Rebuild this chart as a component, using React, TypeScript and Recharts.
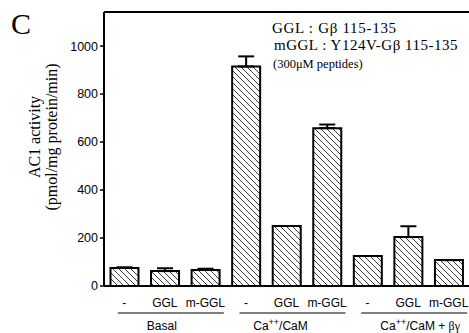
import React from 'react';
import { BarChart, Bar, XAxis, YAxis, ErrorBar, ReferenceLine } from 'recharts';

const conditions = ['-', 'GGL', 'm-GGL', '-', 'GGL', 'm-GGL', '-', 'GGL', 'm-GGL'];
const groups = ['Basal', 'Ca++/CaM', 'Ca++/CaM + βγ'];
const activity = [75, 62, 67, 915, 250, 658, 125, 204, 108];
const sem = [3, 12, 5, 42, 0, 15, 0, 45, 0];
const yTicks = [0, 200, 400, 600, 800, 1000];
const yMax = 1142;

const SANS = '"Liberation Sans", Arial, sans-serif';
const SERIF = '"Liberation Serif", "Times New Roman", serif';

const data = conditions.map((c, i) => ({
  key: i,
  label: c,
  value: activity[i],
  err: [0, sem[i]],
}));

const groupLabelShift = [-3, -6, 12];

function GroupLabel({ name, x, y }: { name: string; x: number; y: number }) {
  if (name.startsWith('Ca++')) {
    const rest = name.slice(4);
    const plus = rest.indexOf('βγ');
    return (
      <text x={x} y={y} textAnchor="middle" fontFamily={SANS} fontSize={12} fill="#000">
        Ca
        <tspan dy={-5} fontSize={9}>++</tspan>
        <tspan dy={5}>{plus >= 0 ? rest.slice(0, plus) : rest}</tspan>
        {plus >= 0 && <tspan fontFamily={SERIF}>βγ</tspan>}
      </text>
    );
  }
  return (
    <text x={x} y={y} textAnchor="middle" fontFamily={SANS} fontSize={12} fill="#000">
      {name}
    </text>
  );
}

function CategoryTick(props: any) {
  const { x, payload } = props;
  const i = Number(payload.value);
  const base = 286;
  return (
    <g>
      <text x={x} y={base + 21} textAnchor="middle" fontFamily={SANS} fontSize={12} fill="#000">
        {conditions[i]}
      </text>
      {i % 3 === 1 && (
        <g>
          <line x1={x - 47} x2={x + 59} y1={base + 27} y2={base + 27} stroke="#000" strokeWidth={1.2} />
          <GroupLabel name={groups[(i - 1) / 3]} x={x + groupLabelShift[(i - 1) / 3]} y={base + 44} />
        </g>
      )}
    </g>
  );
}

export default function App() {
  return (
    <div style={{ position: 'absolute', left: 0, top: 0, width: 469, height: 333, background: '#fff' }}>
      <svg width={0} height={0} style={{ position: 'absolute' }}>
        <defs>
          <pattern id="hatch" patternUnits="userSpaceOnUse" width={6} height={6}>
            <path d="M0,0 L6,6 M-1,5 L1,7 M5,-1 L7,1" stroke="#222" strokeWidth={0.9} />
          </pattern>
        </defs>
      </svg>
      <BarChart
        width={469}
        height={333}
        data={data}
        margin={{ top: 12, right: 0, bottom: 0, left: 54 }}
        barCategoryGap="16%"
      >
        <XAxis
          dataKey="key"
          type="category"
          height={47}
          axisLine={{ stroke: '#000', strokeWidth: 2 }}
          tickLine={false}
          interval={0}
          tick={<CategoryTick />}
        />
        <YAxis
          width={50}
          domain={[0, yMax]}
          ticks={yTicks}
          allowDataOverflow
          axisLine={{ stroke: '#000', strokeWidth: 2 }}
          tickLine={{ stroke: '#000', strokeWidth: 1.5 }}
          tickSize={4}
          tick={{ fill: '#000', fontFamily: SANS, fontSize: 12.5 }}
        />
        <ReferenceLine y={yMax} stroke="#000" strokeWidth={2} ifOverflow="extendDomain" />
        <Bar dataKey="value" fill="url(#hatch)" stroke="#000" strokeWidth={2} isAnimationActive={false}>
          <ErrorBar dataKey="err" width={8} stroke="#000" strokeWidth={2} direction="y" />
        </Bar>
      </BarChart>
      <svg width={469} height={333} style={{ position: 'absolute', left: 0, top: 0, pointerEvents: 'none' }}>
        <text x={11} y={34} fontFamily={SERIF} fontSize={30} fill="#000">C</text>
        <text
          transform="translate(40,137) rotate(-90)"
          textAnchor="middle"
          fontFamily={SERIF}
          fontSize={16}
          fill="#000"
        >
          AC1 activity
        </text>
        <text
          transform="translate(57,137) rotate(-90)"
          textAnchor="middle"
          fontFamily={SERIF}
          fontSize={16}
          fill="#000"
        >
          (pmol/mg protein/min)
        </text>
        <text x={272} y={33} fontFamily={SERIF} fontSize={15} letterSpacing={0.7} fill="#000">GGL :  Gβ 115-135</text>
        <text x={274} y={50} fontFamily={SERIF} fontSize={15} letterSpacing={0.5} fill="#000">mGGL : Y124V-Gβ 115-135</text>
        <text x={273} y={68} fontFamily={SERIF} fontSize={12.5} fill="#000">(300μM peptides)</text>
      </svg>
    </div>
  );
}
